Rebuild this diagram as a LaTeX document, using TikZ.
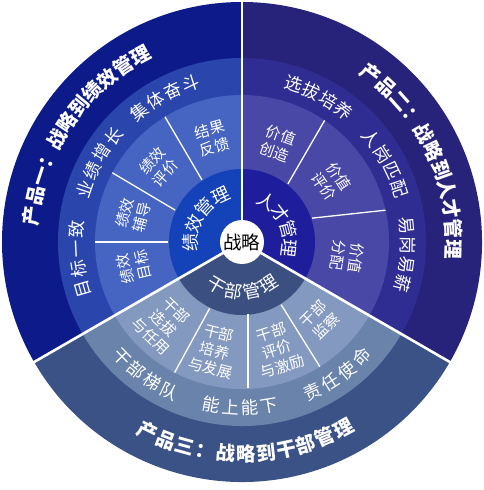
\documentclass[tikz,border=0pt]{standalone}
\usepackage{fontspec}
\newfontfamily\cjk{Noto Sans CJK SC}
\definecolor{aOut}{HTML}{0D1B8A}
\definecolor{aR3}{HTML}{2A45AB}
\definecolor{aR2}{HTML}{4665C2}
\definecolor{aR1}{HTML}{1442B8}
\definecolor{bOut}{HTML}{28237A}
\definecolor{bR3}{HTML}{302D92}
\definecolor{bR2}{HTML}{4A48A6}
\definecolor{bR1}{HTML}{1E1E9C}
\definecolor{cOut}{HTML}{3B5286}
\definecolor{cR3}{HTML}{6A83AB}
\definecolor{cR2}{HTML}{8399BF}
\definecolor{cR1}{HTML}{3B5080}
\tikzset{
  mainsep/.style={white, line width=2.6pt},
  subsep/.style={white, line width=1.3pt},
  outtxt/.style={text=white, inner sep=0pt, font=\cjk\bfseries\fontsize{19.5}{19.5}\selectfont, text height=17pt, text depth=2.3pt},
  ringtxt/.style={text=white, inner sep=0pt, font=\cjk\fontsize{17.5}{17.5}\selectfont, text height=15.4pt, text depth=2.1pt},
  hubtxt/.style={text=white, inner sep=0pt, font=\cjk\fontsize{18}{18}\selectfont, text height=15.8pt, text depth=2.2pt},
  subtxt/.style={text=white, inner sep=0pt, align=center, font=\cjk\fontsize{15}{18}\selectfont},
}
% clockwise text, tops outward: name, style, centre angle, radius, step, n, list
\newcommand\arcCW[7]{%
  \foreach \ch [count=\i] in {#7}{%
    \pgfmathsetmacro\ang{#3+((#6+1)/2-\i)*#5}%
    \node[#2, rotate=\ang-90] (#1-\i) at (\ang:#4pt) {\ch};
  }}
% counter-clockwise text, tops inward
\newcommand\arcCCW[7]{%
  \foreach \ch [count=\i] in {#7}{%
    \pgfmathsetmacro\ang{#3-((#6+1)/2-\i)*#5}%
    \node[#2, rotate=\ang+90] (#1-\i) at (\ang:#4pt) {\ch};
  }}
\newcommand\wedgefill[4]{% colour, start, end, radius
  \fill[#1] (0,0) -- (#2:#4pt) arc[start angle=#2, end angle=#3, radius=#4pt] -- cycle;}
\begin{document}
\begin{tikzpicture}[x=1pt,y=1pt]
\useasboundingbox (-242,-248) rectangle (242,242);
% sector A: performance (90..210)
\wedgefill{aOut}{90}{210}{240}
\wedgefill{aR3}{90}{210}{184}
\wedgefill{aR2}{90}{210}{147}
\wedgefill{aR1}{90}{210}{73}
% sector B: talent (-30..90)
\wedgefill{bOut}{-30}{90}{240}
\wedgefill{bR3}{-30}{90}{184}
\wedgefill{bR2}{-30}{90}{147}
\wedgefill{bR1}{-30}{90}{73}
% sector C: cadres (210..330)
\wedgefill{cOut}{210}{330}{240}
\wedgefill{cR3}{210}{330}{184}
\wedgefill{cR2}{210}{330}{147}
\wedgefill{cR1}{210}{330}{73}
% sub separators
\coordinate (a1i) at (122.8:74pt); \coordinate (a1o) at (121.6:147pt);
\coordinate (a2i) at (154.5:74pt); \coordinate (a2o) at (151.9:147pt);
\coordinate (a3i) at (180:74pt);   \coordinate (a3o) at (180:147pt);
\coordinate (b1i) at (51.7:74pt);  \coordinate (b1o) at (55.8:147pt);
\coordinate (b2i) at (18.8:74pt);  \coordinate (b2o) at (12.5:147pt);
\coordinate (c1i) at (244:74pt);   \coordinate (c1o) at (242.7:147pt);
\coordinate (c2i) at (6,-72);      \coordinate (c2o) at (6,-146);
\coordinate (c3i) at (302:74pt);   \coordinate (c3o) at (302:147pt);
\foreach \s in {a1,a2,a3,b1,b2,c1,c2,c3}{\draw[subsep] (\s i) -- (\s o);}
% main separators
\coordinate (O) at (0,0);
\coordinate (m1) at (90:241pt);
\coordinate (m2) at (210:241pt);
\coordinate (m3) at (330:241pt);
\foreach \m in {m1,m2,m3}{\draw[mainsep] (O) -- (\m);}
% centre
\node[circle, fill=white, minimum size=44pt, inner sep=0pt, font=\cjk\fontsize{18.5}{18.5}\selectfont, text=black] (hub) at (O) {战略};
% outer titles
\arcCW{ta}{outtxt}{145.7}{212}{5.42}{11}{产,品,一,：,战,略,到,绩,效,管,理}
\arcCW{tb}{outtxt}{25.3}{212}{5.46}{11}{产,品,二,：,战,略,到,人,才,管,理}
\arcCCW{tc}{outtxt}{271}{212}{5.5}{11}{产,品,三,：,战,略,到,干,部,管,理}
% ring 3 labels
\arcCW{ra1}{ringtxt}{186}{166}{6.9}{4}{目,标,一,致}
\arcCW{ra2}{ringtxt}{151}{166}{6.9}{4}{业,绩,增,长}
\arcCW{ra3}{ringtxt}{118}{166}{6.8}{4}{集,体,奋,斗}
\arcCW{rb1}{ringtxt}{62}{166}{6.6}{4}{选,拔,培,养}
\arcCW{rb2}{ringtxt}{28.7}{166}{6.7}{4}{人,岗,匹,配}
\arcCW{rb3}{ringtxt}{-4.5}{166}{6.7}{4}{易,岗,易,薪}
\arcCCW{rc1}{ringtxt}{234}{166}{6.7}{4}{干,部,梯,队}
\arcCCW{rc2}{ringtxt}{269.3}{166}{6.7}{4}{能,上,能,下}
\arcCCW{rc3}{ringtxt}{305.7}{166}{7.0}{4}{责,任,使,命}
% hub ring labels
\arcCW{ha}{hubtxt}{148}{51}{22}{4}{绩,效,管,理}
\arcCW{hb}{hubtxt}{26}{48}{22}{4}{人,才,管,理}
\arcCCW{hc}{hubtxt}{271}{50}{21}{4}{干,部,管,理}
% ring 2 labels
\node[subtxt, rotate=16]  (sa1) at (106:108pt) {结果\\反馈};
\node[subtxt, rotate=48]  (sa2) at (138:112pt) {绩效\\评价};
\node[subtxt, rotate=76]  (sa3) at (166:112pt) {绩效\\辅导};
\node[subtxt, rotate=103] (sa4) at (193:111pt) {绩效\\目标};
\node[subtxt, rotate=-20] (sb1) at (70:105pt) {价值\\创造};
\node[subtxt, rotate=-56] (sb2) at (34:108pt) {价值\\评价};
\node[subtxt, rotate=-98] (sb3) at (-8:106pt) {价值\\分配};
\node[subtxt, rotate=-44] (sc1) at (226:113pt) {干部\\选拔\\与任用};
\node[subtxt, rotate=-14] (sc2) at (256:112pt) {干部\\培养\\与发展};
\node[subtxt, rotate=18]  (sc3) at (288:113pt) {干部\\评价\\与激励};
\node[subtxt, rotate=45]  (sc4) at (315:110pt) {干部\\监察};
\end{tikzpicture}
\end{document}
